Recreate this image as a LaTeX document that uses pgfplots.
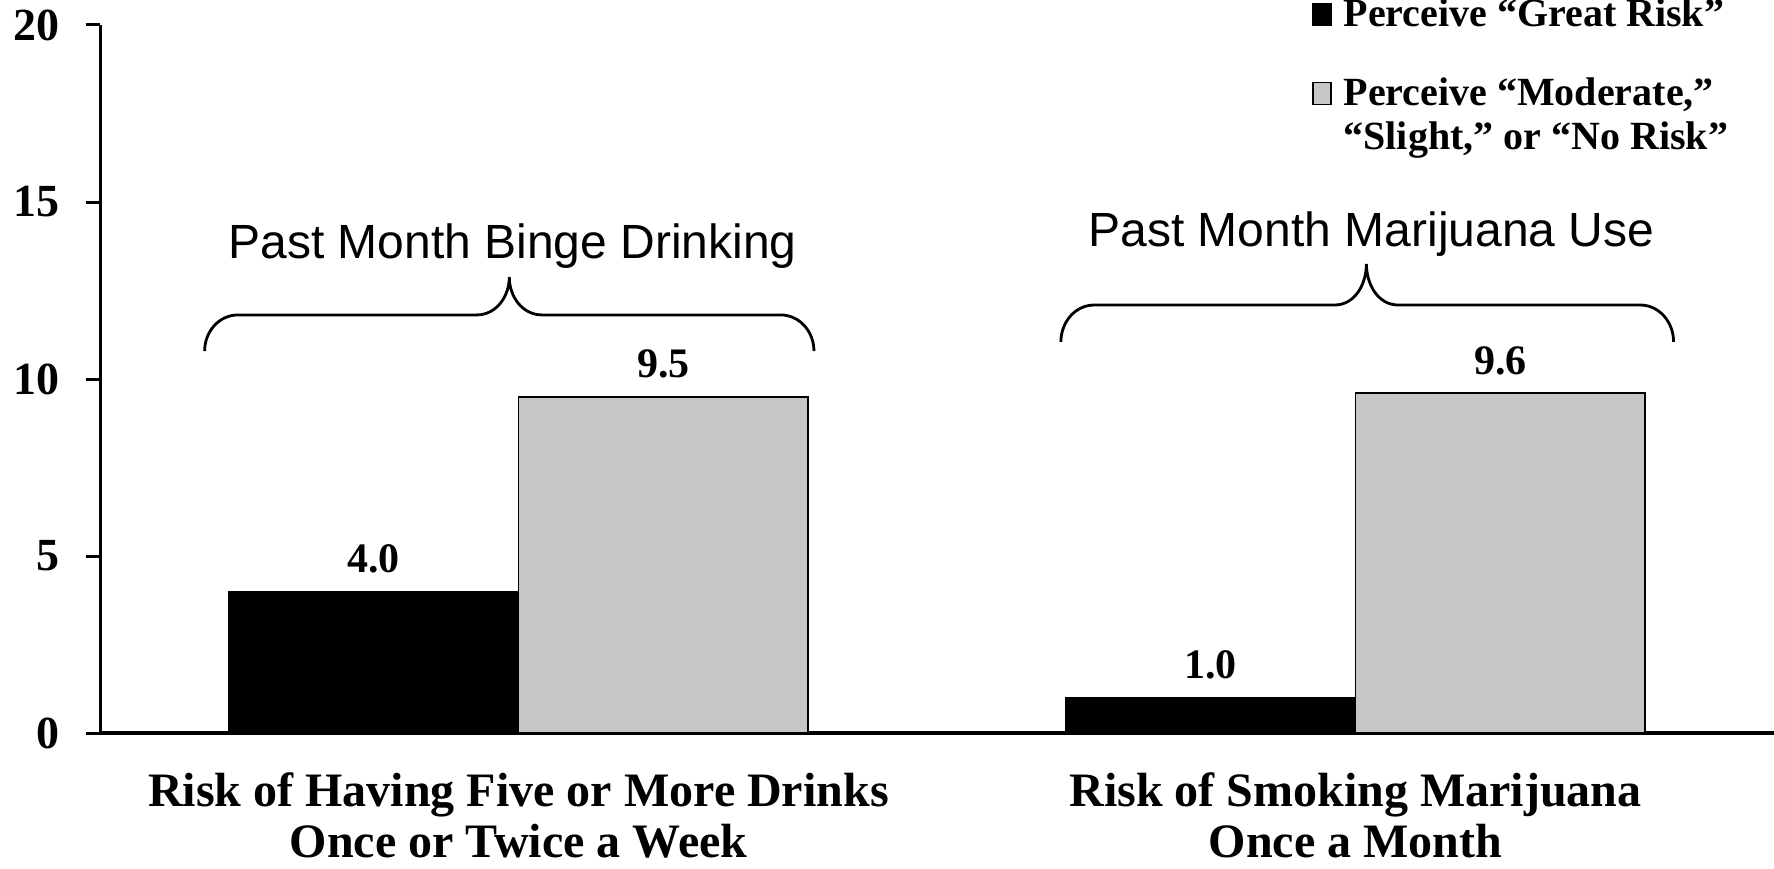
\documentclass[border=0pt]{standalone}
\usepackage{fontspec}
\setmainfont{Liberation Serif}
\newfontfamily\arialfont{Liberation Sans}
\usepackage{pgfplots}
\pgfplotsset{compat=1.18}
\pgfplotsset{
  mylegend/.style={draw=none, fill=none, inner sep=0pt,
    font=\fontsize{10}{12}\selectfont\bfseries, row sep=-1.5pt, column sep=1pt, cells={anchor=base west}},
  sqimage/.style={legend image code/.code={\filldraw[##1] (0pt,-2.4pt) rectangle (4.5pt,3.1pt);}},
}
\begin{document}
\begin{tikzpicture}
\begin{axis}[
  name=ax,
  scale only axis,
  width=418.5pt, height=177pt,
  xmin=-0.5, xmax=1.5, ymin=0, ymax=20,
  clip=false,
  axis x line=bottom, axis y line=left,
  axis line style={-, line width=0.75pt},
  x axis line style={line width=1pt},
  ytick={0,5,10,15,20},
  xtick={0,1},
  xticklabels={{Risk of Having Five or More Drinks\\Once or Twice a Week},{Risk of Smoking Marijuana\\Once a Month}},
  xtick style={draw=none},
  ytick style={line width=0.75pt, black},
  tick align=outside,
  major tick length=3.5pt,
  /pgf/number format/assume math mode=true,
  yticklabel style={font=\fontsize{11.5}{13}\selectfont\bfseries, xshift=-3pt},
  xticklabel style={font=\fontsize{12}{12.75}\selectfont\bfseries, align=center, yshift=-3pt},
  ybar=0pt, bar width=0.346,
  nodes near coords={\pgfmathprintnumber[fixed,fixed zerofill,precision=1,assume math mode=true]{\pgfplotspointmeta}},
  nodes near coords style={font=\fontsize{10.5}{12}\selectfont\bfseries, anchor=base, yshift=4.75pt},
  sqimage,
  legend style={mylegend, at={(axis cs:0.947,18.755)}, anchor=north west},
  legend cell align=left,
]
\addplot[fill=black, draw=black, bar shift=-0.173, forget plot] coordinates {(0,4.0) (1,1.0)};
\addplot[fill=gray!45, draw=black, line width=0.4pt, bar shift=0.173] coordinates {(0,9.5) (1,9.6)};
\addlegendentry{Perceive “Moderate,”}
\addlegendimage{empty legend}
\addlegendentry{“Slight,” or “No Risk”}

% braces
\draw[line width=0.7pt] (axis cs:-0.375,10.79) to[out=90,in=180] (axis cs:-0.335,11.81) -- (axis cs:-0.05,11.81) to[out=0,in=270] (axis cs:-0.011,12.88) to[out=270,in=180] (axis cs:0.028,11.81) -- (axis cs:0.313,11.81) to[out=0,in=90] (axis cs:0.353,10.79);
\draw[line width=0.7pt] (axis cs:0.648,11.05) to[out=90,in=180] (axis cs:0.688,12.09) -- (axis cs:0.975,12.09) to[out=0,in=270] (axis cs:1.013,13.25) to[out=270,in=180] (axis cs:1.051,12.09) -- (axis cs:1.340,12.09) to[out=0,in=90] (axis cs:1.380,11.05);
\node[font=\arialfont\fontsize{12}{14}\selectfont, anchor=base] at (axis cs:-0.007,13.39) {Past Month Binge Drinking};
\node[font=\arialfont\fontsize{12}{14}\selectfont, anchor=base] at (axis cs:1.019,13.73) {Past Month Marijuana Use};
\end{axis}
\begin{axis}[
  at={(ax.south west)}, anchor=south west,
  scale only axis,
  width=418.5pt, height=177pt,
  xmin=-0.5, xmax=1.5, ymin=0, ymax=20,
  hide axis,
  sqimage,
  legend style={mylegend, at={(axis cs:0.947,20.98)}, anchor=north west},
  legend cell align=left,
]
\addlegendimage{fill=black, draw=black}
\addlegendentry{Perceive “Great Risk”}
\end{axis}
\pgfresetboundingbox
\path[use as bounding box] ([shift={(-25pt,-33.75pt)}]ax.south west) rectangle ([shift={(0pt,6.25pt)}]ax.north east);
\end{tikzpicture}
\end{document}
